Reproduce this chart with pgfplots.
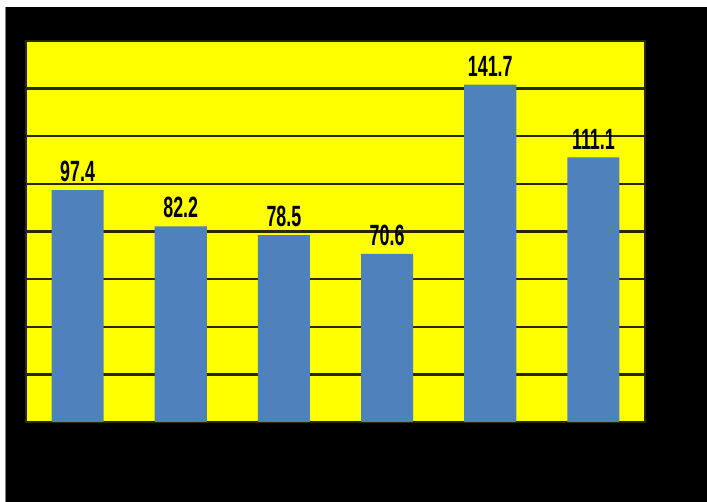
\documentclass[border=0pt]{standalone}
\usepackage{pgfplots}
\pgfplotsset{compat=1.18}
\usepackage{graphicx}
\usepackage{fontspec}
\setmainfont{Liberation Sans}
\definecolor{barblue}{HTML}{4F81BD}
\definecolor{gridc}{RGB}{40,40,0}
\definecolor{yel}{RGB}{255,255,0}
\begin{document}
\begin{tikzpicture}
\fill[black] (-26bp,-80bp) rectangle (681bp,422bp);
\fill[white] (-26bp,415bp) rectangle (681bp,422bp);
\fill[white] (-26bp,-80bp) rectangle (-21bp,422bp);
\fill[gray] (-21bp,-80bp) rectangle (-20bp,415bp);
\path[use as bounding box] (-26bp,-80bp) rectangle (681bp,422bp);
\begin{axis}[
  anchor=south west, at={(0,0)},
  scale only axis, width=619bp, height=381bp,
  xmin=-0.5, xmax=5.5, ymin=0, ymax=160,
  ytick={20,40,60,80,100,120,140},
  xtick=\empty,
  yticklabels={}, major tick length=0pt,
  ymajorgrids, grid style={gridc, line width=2.4bp},
  axis line style={gridc, line width=1.2bp},
  axis background/.style={fill=yel},
  ybar, bar width=52bp,
  /pgf/number format/assume math mode=true,
  nodes near coords={\scalebox{0.64}[1.05]{\fontsize{28}{30}\selectfont\bfseries\pgfmathprintnumber[fixed,precision=1,fixed zerofill,assume math mode=true]{\pgfplotspointmeta}}},
  nodes near coords style={text=black, inner sep=1bp, yshift=7bp},
]
\addplot[fill=barblue, draw=none] coordinates {(0,97.4) (1,82.2) (2,78.5) (3,70.6) (4,141.7) (5,111.1)};
\end{axis}
\end{tikzpicture}
\end{document}
